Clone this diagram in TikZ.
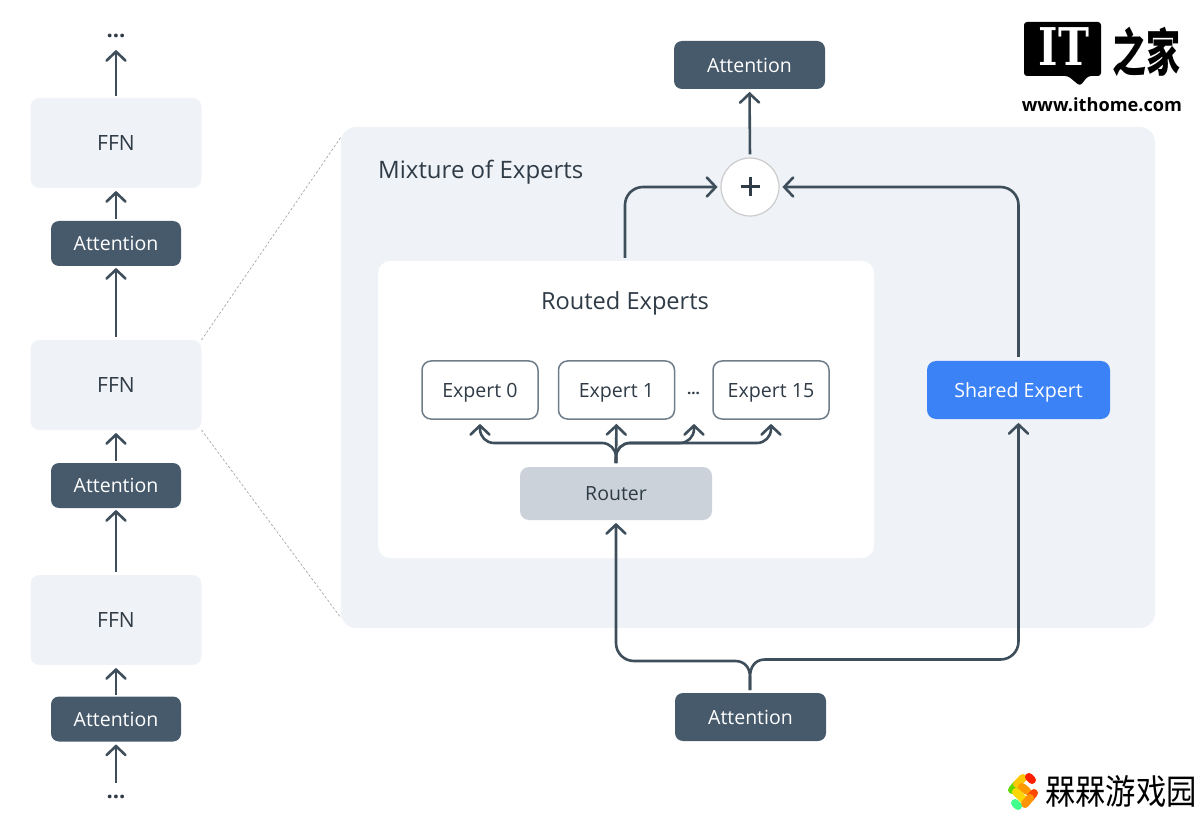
\documentclass[tikz,border=0pt]{standalone}
\usepackage{fontspec}
\setmainfont{Open Sans}
\newfontfamily\cjk{Noto Sans CJK SC}
\newfontfamily\slab{DejaVu Serif}
\usetikzlibrary{arrows.meta,calc}
\definecolor{slateD}{HTML}{475A6B}
\definecolor{lineD}{HTML}{3E4E5B}
\definecolor{inkD}{HTML}{2F3B46}
\definecolor{panelG}{HTML}{EFF2F6}
\definecolor{routerG}{HTML}{CBD2D9}
\definecolor{edgeG}{HTML}{6F7E8A}
\definecolor{blueS}{HTML}{3B82F6}
\newcommand{\fs}[1]{\fontsize{#1}{#1}\selectfont}
\newcommand{\capc}[1]{\smash{\raisebox{-.36em}{#1}}}
\pgfdeclarearrow{
  name=VeeTip,
  setup code={
    \pgfarrowssettipend{1.6pt}
    \pgfarrowssetbackend{-9pt}
    \pgfarrowssetlineend{0pt}
    \pgfarrowssetvisualbackend{-9pt}
  },
  drawing code={
    \pgfsetdash{}{0pt}
    \pgfsetroundcap
    \pgfsetmiterjoin
    \pgfpathmoveto{\pgfqpoint{-9pt}{9.5pt}}
    \pgfpathlineto{\pgfqpoint{0pt}{0pt}}
    \pgfpathlineto{\pgfqpoint{-9pt}{-9.5pt}}
    \pgfusepathqstroke
  }
}
\tikzset{
  x=1pt,y=-1pt,
  box/.style={rounded corners=#1,inner sep=0pt,outer sep=0pt,draw=none,align=center},
  ffn/.style={box=9,fill=panelG,minimum width=171,minimum height=90,text=inkD,font=\fs{21}},
  attn/.style={box=8,fill=slateD,text=white,minimum width=130,minimum height=45,font=\fs{19.5}},
  attnwide/.style={box=8,fill=slateD,text=white,minimum width=151,minimum height=48,font=\fs{19.5}},
  expert/.style={box=9,fill=white,draw=edgeG,line width=1.5,minimum width=116,minimum height=58,text=inkD,font=\fs{19.6}},
  conn/.style={draw=lineD,line width=2.6,-VeeTip},
  guide/.style={draw=gray!70,line width=.7,dash pattern=on 2.5 off 2},
  txt/.style={inner sep=0pt,text=inkD},
}
\begin{document}
\begin{tikzpicture}
\useasboundingbox (0,0) rectangle (1200,818);
% main panels
\node[box=15,fill=panelG,minimum width=814,minimum height=501,anchor=north west] (mix) at (341,127) {};
\node[box=12,fill=white,minimum width=496,minimum height=297,anchor=north west] (routed) at (378,261) {};
\node[txt,font=\fs{24},anchor=west] (mixt) at (378,170) {\capc{Mixture of Experts}};
\node[txt,font=\fs{23.6}] (routedt) at (625,301.5) {\capc{Routed Experts}};
% left column
\node[txt,font=\fs{22}] (dtop) at (116,36) {\textbf{...}};
\node[ffn] (f1) at (116,143) {\capc{FFN}};
\node[attn] (a1) at (116,243.5) {\capc{Attention}};
\node[ffn] (f2) at (116,385) {\capc{FFN}};
\node[attn] (a2) at (116,485.5) {\capc{Attention}};
\node[ffn] (f3) at (116,620) {\capc{FFN}};
\node[attn] (a3) at (116,719) {\capc{Attention}};
\node[txt,font=\fs{22}] (dbot) at (116,797) {\textbf{...}};
\draw[conn,shorten <=2,shorten >=12] (f1.north) -- (dtop.south);
\draw[conn,shorten <=2,shorten >=3] (a1.north) -- (f1.south);
\draw[conn,shorten <=3,shorten >=2] (f2.north) -- (a1.south);
\draw[conn,shorten <=2,shorten >=3] (a2.north) -- (f2.south);
\draw[conn,shorten <=3,shorten >=2] (f3.north) -- (a2.south);
\draw[conn,shorten <=2,shorten >=3] (a3.north) -- (f3.south);
\draw[conn,shorten <=12,shorten >=3] (dbot.north) -- (a3.south);
% zoom guides
\coordinate (g1) at (341,137);
\coordinate (g2) at (341,618);
\draw[guide] (f2.north east) -- (g1);
\draw[guide] (f2.south east) -- (g2);
% experts
\node[expert] (e0) at (480,390) {\capc{Expert 0}};
\node[expert] (e1) at (616.5,390) {\capc{Expert 1}};
\node[expert] (e15) at (771,390) {\capc{Expert 15}};
\node[txt,font=\fs{15}] (edots) at (693.5,393) {\textbf{...}};
\node[box=9,fill=routerG,minimum width=192,minimum height=53,text=inkD,font=\fs{19.5}] (router) at (616,493.5) {\capc{Router}};
\node[box=9,fill=blueS,minimum width=183,minimum height=58,text=white,font=\fs{19.6}] (shared) at (1018.5,390) {\capc{Shared Expert}};
\node[attnwide] (atop) at (749.5,65) {\capc{Attention}};
\node[attnwide] (abot) at (750.5,717) {\capc{Attention}};
\node[circle,fill=white,draw=gray!40,line width=1.2,minimum size=58,inner sep=0pt] (plus) at (750,187) {};
\draw[inkD,line width=3] ($(plus)+(-9.5,0)$) -- ($(plus)+(9.5,0)$) ($(plus)+(0,-9.5)$) -- ($(plus)+(0,9.5)$);
% router branches
\coordinate (b0) at (480,443);
\coordinate (b2) at (694,443);
\coordinate (b3) at (771,443);
\coordinate (t2) at (694,424);
\coordinate (ro) at (616,463);
\draw[conn,shorten >=5] (ro) -- (e1.south);
\draw[conn,rounded corners=14,shorten >=5] (ro) |- (b0) -- (e0.south);
\draw[conn,rounded corners=14] (ro) |- (b2) -- (t2);
\draw[conn,rounded corners=14,shorten >=5] (ro) |- (b3) -- (e15.south);
% to plus
\coordinate (rs) at (625,258);
\coordinate (rc) at (625,187);
\coordinate (sc) at (1018.5,187);
\draw[conn,rounded corners=18,shorten >=3] (rs) -- (rc) -- (plus.west);
\draw[conn,rounded corners=18,shorten <=4,shorten >=3] (shared.north) -- (sc) -- (plus.east);
\draw[conn,shorten <=3,shorten >=3] (plus.north) -- (atop.south);
% from attention
\coordinate (as) at (750,690);
\draw[conn,shorten >=3] (as) -- (750,677) .. controls (750,668) and (745,661) .. (735,661) -- (634,661) .. controls (624,661) and (616,653) .. (616,643) -- (router.south);
\draw[conn,shorten >=4] (as) -- (750,677) .. controls (750,667) and (755,659.5) .. (765,659.5) -- (1000.5,659.5) .. controls (1010.5,659.5) and (1018.5,651.5) .. (1018.5,641.5) -- (shared.south);
% IT logo
\fill[black,rounded corners=3] (1024,22) -- (1101,22) -- (1101,76) -- (1088,76) -- (1080,86) -- (1068,76) -- (1024,76) -- cycle;
\node[inner sep=0pt,text=white,font=\slab\bfseries\fs{52},xscale=.8] (itt) at (1064,47) {IT};
\node[inner sep=0pt,text=black,font=\cjk\bfseries\fs{34},yscale=1.5] (zj) at (1146.5,52) {之家};
\node[inner sep=0pt,text=black,font=\bfseries\fs{18.2}] (url) at (1102,105) {www.ithome.com};
% watermark
\node[inner sep=0pt,text=black,anchor=west,font=\cjk\fs{30},xscale=1.01,yscale=1.15] (wm) at (1045,791) {槑槑游戏园};
\begin{scope}[line width=8,line cap=round,line join=round]
\draw[green!55!yellow!85!black] (1012,790) -- (1017,784);
\draw[yellow!60!orange] (1017,784) -- (1023,778);
\draw[red!75!orange] (1029,777) -- (1032,780);
\draw[orange!80!yellow] (1022,787) -- (1027,791);
\draw[yellow!75!orange] (1016,792) -- (1024,800);
\draw[red!45!orange] (1034,793) -- (1030,798);
\draw[orange!85!yellow] (1030,798) -- (1025,804);
\draw[green!60!cyan!75] (1015,803) -- (1018,806);
\end{scope}
\end{tikzpicture}
\end{document}
